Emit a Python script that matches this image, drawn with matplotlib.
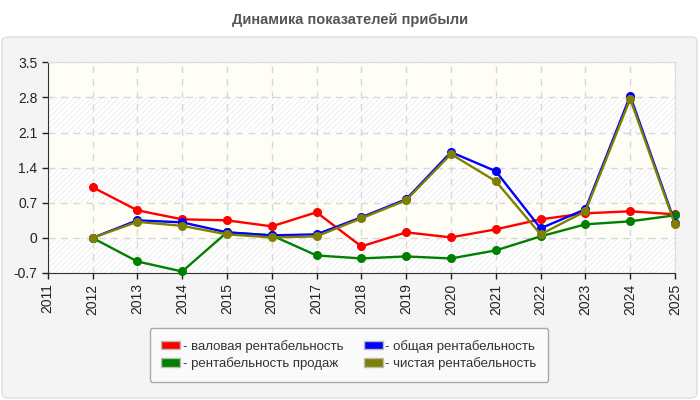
import matplotlib
matplotlib.use("Agg")
import matplotlib.pyplot as plt
from matplotlib.patches import FancyBboxPatch, Patch

# данные
years = list(range(2012, 2026))
gross = [1.01, 0.55, 0.37, 0.35, 0.23, 0.51, -0.17, 0.11, 0.01, 0.17, 0.37, 0.49, 0.53, 0.47]
total = [0.0, 0.35, 0.31, 0.11, 0.05, 0.07, 0.41, 0.77, 1.71, 1.33, 0.19, 0.57, 2.83, 0.30]
sales = [0.0, -0.47, -0.67, 0.11, 0.05, -0.35, -0.41, -0.37, -0.41, -0.25, 0.03, 0.27, 0.33, 0.45]
net = [0.0, 0.32, 0.24, 0.07, 0.01, 0.03, 0.39, 0.75, 1.67, 1.13, 0.07, 0.53, 2.77, 0.27]

yticks = [-0.7, 0, 0.7, 1.4, 2.1, 2.8, 3.5]
ylabels = ["-0.7", "0", "0.7", "1.4", "2.1", "2.8", "3.5"]
xticks = list(range(2011, 2026))

series = [
    ("- валовая рентабельность", gross, "#ff0000"),
    ("- рентабельность продаж", sales, "#008000"),
    ("- общая рентабельность", total, "#0000ff"),
    ("- чистая рентабельность", net, "#808000"),
]

plt.rcParams['font.family'] = ['Liberation Sans', 'DejaVu Sans']
plt.rcParams['hatch.linewidth'] = 0.6
fig = plt.figure(figsize=(7, 4), dpi=100)
fig.patch.set_facecolor("white")

W, H = 700, 400
panel = FancyBboxPatch((2 / W, 2 / H), 695 / W, 361 / H,
                       boxstyle="round,pad=0,rounding_size=0.01",
                       transform=fig.transFigure, facecolor="#f4f4f4",
                       edgecolor="#dedede", linewidth=1, zorder=-5)
fig.patches.append(panel)

fig.text(0.5, 1 - 20 / H, "Динамика показателей прибыли", ha="center", va="center",
         fontsize=10.5, fontweight="bold", color="#555555")

ax = fig.add_axes([47.7 / W, 1 - 273 / H, (675 - 47.7) / W, (273 - 62.3) / H])
ax.set_facecolor("white")

# полосы фона
for i in range(len(yticks) - 1):
    lo, hi = yticks[i], yticks[i + 1]
    if i % 2 == 0:
        ax.axhspan(lo, hi, facecolor="white", edgecolor="#ececec", hatch="//////",
                   linewidth=0, zorder=-2)
    else:
        ax.axhspan(lo, hi, facecolor="#fefef6", linewidth=0, zorder=-2)

ax.set_axisbelow(True)
ax.grid(True, color="#d8d8d8", linestyle=(0, (5, 4)), linewidth=1)

for label, vals, col in series:
    ax.plot(years, vals, color=col, linewidth=1.7, marker="o", markersize=5.5,
            zorder=3, clip_on=False)

ax.set_xlim(2011, 2025)
ax.set_ylim(-0.7, 3.5)
ax.set_xticks(xticks)
ax.set_xticklabels([str(x) for x in xticks], rotation=90, fontsize=10)
ax.set_yticks(yticks)
ax.set_yticklabels(ylabels, fontsize=10)
ax.tick_params(colors="#222222", length=4, width=1)

for s in ["left", "bottom"]:
    ax.spines[s].set_color("#333333")
for s in ["top", "right"]:
    ax.spines[s].set_color("#dddddd")

handles = [Patch(facecolor=c, edgecolor="#bbbbbb", label=l) for l, v, c in series]
leg = fig.legend(handles=handles, ncol=2, loc="center",
                 bbox_to_anchor=(349 / W, 1 - 355 / H), fontsize=9.5,
                 frameon=True, fancybox=True, handlelength=1.4, handleheight=0.6,
                 handletextpad=0.2, columnspacing=1.6, labelspacing=0.35,
                 borderpad=0.9)
leg.get_frame().set_facecolor("#fafafa")
leg.get_frame().set_edgecolor("#aaaaaa")
leg.get_frame().set_alpha(1)
for t in leg.get_texts():
    t.set_color("#333333")

fig.savefig("out.png", dpi=100, facecolor=fig.get_facecolor())
